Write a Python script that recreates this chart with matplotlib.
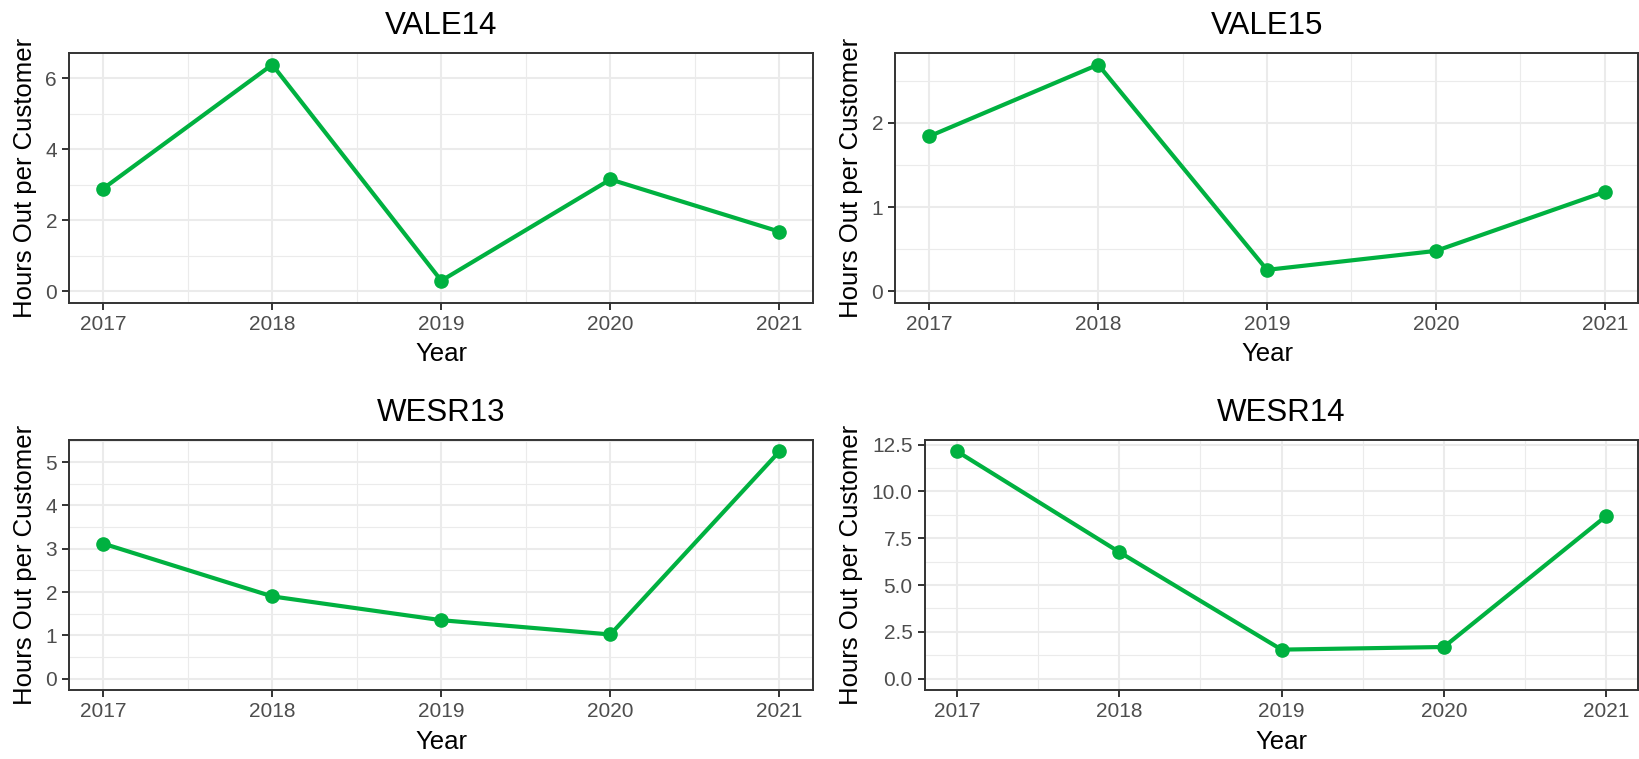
import numpy as np
import matplotlib
matplotlib.use("Agg")
import matplotlib.pyplot as plt
from matplotlib.ticker import MultipleLocator, FormatStrFormatter

plt.rcParams['font.family'] = ['Liberation Sans', 'DejaVu Sans']

# Datos
years = [2017, 2018, 2019, 2020, 2021]
vale14 = [2.89, 6.38, 0.30, 3.15, 1.68]
vale15 = [1.84, 2.69, 0.255, 0.48, 1.18]
wesr13 = [3.12, 1.90, 1.35, 1.02, 5.25]
wesr14 = [12.14, 6.76, 1.55, 1.69, 8.68]

titles = ["VALE14", "VALE15", "WESR13", "WESR14"]
series = [vale14, vale15, wesr13, wesr14]
y_steps = [2, 1, 1, 2.5]
y_formats = ["%d", "%d", "%d", "%.1f"]

green = "#00B140"
W, H = 1640, 759

# posiciones de los paneles en pixeles (izq, der, arriba, abajo)
boxes = [
    (69.3, 813.3, 53.3, 302.7),
    (895.5, 1638.5, 53.3, 302.7),
    (69.3, 813.3, 440, 690),
    (924.6, 1638.5, 440, 690),
]

fig = plt.figure(figsize=(W / 100, H / 100), dpi=100)

for title, vals, step, fmt, (l, r, t, b) in zip(titles, series, y_steps, y_formats, boxes):
    ax = fig.add_axes([l / W, 1 - b / H, (r - l) / W, (b - t) / H])

    ax.plot(years, vals, color=green, linewidth=3, marker="o", markersize=9.5,
            zorder=3)

    lo = min(0, min(vals))
    hi = max(vals)
    pad = 0.05 * (hi - lo)
    ax.set_ylim(lo - pad, hi + pad)
    ax.set_xlim(years[0] - 0.2, years[-1] + 0.2)

    ax.set_xticks(years)
    ax.xaxis.set_minor_locator(MultipleLocator(0.5))
    ax.yaxis.set_major_locator(MultipleLocator(step))
    ax.yaxis.set_minor_locator(MultipleLocator(step / 2))
    ax.yaxis.set_major_formatter(FormatStrFormatter(fmt))

    ax.grid(True, which="major", color="#EBEBEB", linewidth=1.5, zorder=0)
    ax.grid(True, which="minor", color="#EBEBEB", linewidth=0.8, zorder=0)
    ax.set_axisbelow(True)

    for sp in ax.spines.values():
        sp.set_color("#333333")
        sp.set_linewidth(1.4)

    ax.tick_params(which="major", length=4.8, width=1.4, color="#333333",
                   labelsize=15, labelcolor="#4D4D4D", pad=4)
    ax.tick_params(which="minor", length=0)

    ax.set_title(title, fontsize=22.5, pad=14)
    ax.set_xlabel("Year", fontsize=18.5, labelpad=6)
    ax.set_ylabel("Hours Out per Customer", fontsize=18.5, labelpad=6)

fig.savefig("out.png", dpi=100, facecolor="white")
